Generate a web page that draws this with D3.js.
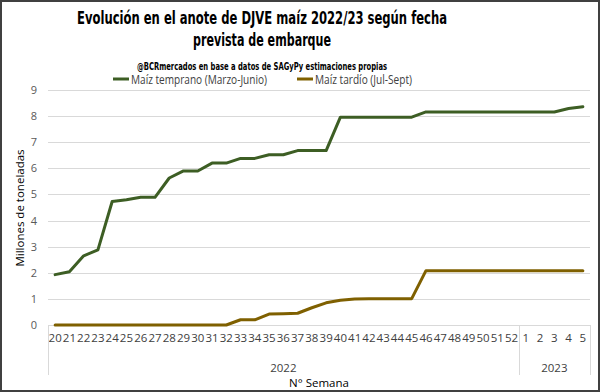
<!DOCTYPE html>
<html>
<head>
<meta charset="utf-8">
<script src="https://cdn.jsdelivr.net/npm/d3@7"></script>
<style>
  html, body { margin: 0; padding: 0; background: #fff; }
  svg { display: block; }
</style>
</head>
<body>
<svg id="chart" width="600" height="392"></svg>
<script>
// ---- Data ----
const weeks = ["20","21","22","23","24","25","26","27","28","29","30","31","32","33","34","35","36","37","38","39","40","41","42","43","44","45","46","47","48","49","50","51","52","1","2","3","4","5"];
const years = [
  { label: "2022", first: "20", last: "52" },
  { label: "2023", first: "1", last: "5" }
];
const temprano = [1.93,2.04,2.65,2.88,4.73,4.80,4.89,4.89,5.63,5.90,5.90,6.20,6.20,6.38,6.38,6.52,6.52,6.68,6.68,6.68,7.96,7.96,7.96,7.96,7.96,7.96,8.16,8.16,8.16,8.16,8.16,8.16,8.16,8.16,8.16,8.16,8.29,8.36];
const tardio = [0,0,0,0,0,0,0,0,0,0,0,0,0,0.20,0.20,0.42,0.43,0.45,0.66,0.85,0.95,1.00,1.01,1.01,1.01,1.01,2.08,2.08,2.08,2.08,2.08,2.08,2.08,2.08,2.08,2.08,2.08,2.08];
const yTicks = [0,1,2,3,4,5,6,7,8,9];
const seriesNames = ["Maíz temprano (Marzo-Junio)", "Maíz tardío (Jul-Sept)"];
const colors = ["#3d5e24", "#7f6000"];

const titleLines = ["Evolución en el anote de DJVE maíz 2022/23 según fecha", "prevista de embarque"];
const subtitle = "@BCRmercados en base a datos de SAGyPy estimaciones propias";
const yTitle = "Millones de toneladas";
const xTitle = "N° Semana";

(function () {
// ---- Layout ----
const svg = d3.select("#chart");
const W = 600, H = 392;
const mLeft = 48, mRight = 590, mTop = 90, mBottom = 325;

svg.append("rect").attr("x", 1).attr("y", 1).attr("width", W - 2).attr("height", H - 2)
  .attr("fill", "#fff").attr("stroke", "#404040").attr("stroke-width", 2);

const x = d3.scaleBand().domain(weeks).range([mLeft, mRight]).padding(0);
const xc = d => x(d) + x.bandwidth() / 2;
const y = d3.scaleLinear().domain([0, 9]).range([mBottom, mTop]);

const condensed = "'Liberation Sans Narrow', 'Arial Narrow', 'DejaVu Sans Condensed', sans-serif";
const bodyFont = "'Open Sans', 'Noto Sans', sans-serif";

// Titles
svg.append("text").attr("x", 262).attr("y", 23.5).attr("text-anchor", "middle")
  .attr("font-family", condensed).attr("font-weight", "bold").attr("font-size", 18)
  .attr("fill", "#000").attr("textLength", 370).attr("lengthAdjust", "spacingAndGlyphs")
  .text(titleLines[0]);
svg.append("text").attr("x", 262).attr("y", 46).attr("text-anchor", "middle")
  .attr("font-family", condensed).attr("font-weight", "bold").attr("font-size", 18)
  .attr("fill", "#000").attr("textLength", 138).attr("lengthAdjust", "spacingAndGlyphs")
  .text(titleLines[1]);
svg.append("text").attr("x", 262).attr("y", 70).attr("text-anchor", "middle")
  .attr("font-family", condensed).attr("font-weight", "bold").attr("font-size", 10.5)
  .attr("fill", "#000").attr("textLength", 250).attr("lengthAdjust", "spacingAndGlyphs")
  .text(subtitle);

// Legend
const legendItems = [
  { x0: 113, tx: 131, tl: 136 },
  { x0: 297, tx: 315, tl: 97 }
];
legendItems.forEach((d, i) => {
  svg.append("line").attr("x1", d.x0).attr("x2", d.x0 + 16).attr("y1", 79).attr("y2", 79)
    .attr("stroke", colors[i]).attr("stroke-width", 3);
  svg.append("text").attr("x", d.tx).attr("y", 83.5)
    .attr("font-family", bodyFont).attr("font-size", 12).attr("fill", "#404040")
    .attr("textLength", d.tl).attr("lengthAdjust", "spacingAndGlyphs")
    .text(seriesNames[i]);
});

// Gridlines
svg.append("g").selectAll("line").data(yTicks).join("line")
  .attr("x1", mLeft).attr("x2", mRight)
  .attr("y1", d => Math.round(y(d)) + 0.5).attr("y2", d => Math.round(y(d)) + 0.5)
  .attr("stroke", "#d9d9d9").attr("stroke-width", 1);

// Y axis labels
const yAxis = d3.axisLeft(y).tickValues(yTicks).tickSize(0).tickPadding(0);
const gy = svg.append("g").attr("transform", `translate(${mLeft - 11},0)`).call(yAxis);
gy.select(".domain").remove();
gy.selectAll("text").attr("font-family", bodyFont).attr("font-size", 11).attr("fill", "#595959");

// Y title
svg.append("text").attr("transform", "translate(24,208) rotate(-90)").attr("text-anchor", "middle")
  .attr("font-family", bodyFont).attr("font-size", 11.5).attr("fill", "#000")
  .text(yTitle);

// X axis (level 1: weeks)
const xAxis = d3.axisBottom(x).tickSize(0).tickPadding(0);
const gx = svg.append("g").attr("transform", `translate(0,${mBottom})`).call(xAxis);
gx.select(".domain").remove();
gx.selectAll("text").attr("font-family", bodyFont).attr("font-size", 11.5).attr("fill", "#404040")
  .attr("dy", "1.45em");

// X axis category boxes
const axisColor = "#d9d9d9";
svg.append("line").attr("x1", mLeft).attr("x2", mRight).attr("y1", mBottom + 0.5).attr("y2", mBottom + 0.5)
  .attr("stroke", axisColor);
const dividers = [x(years[0].first), x(years[1].first), x(years[1].last) + x.bandwidth()];
svg.append("g").selectAll("line").data(dividers).join("line")
  .attr("x1", d => Math.round(d) + 0.5).attr("x2", d => Math.round(d) + 0.5)
  .attr("y1", mBottom).attr("y2", 375)
  .attr("stroke", axisColor).attr("stroke-width", 1);

// Year labels
svg.append("g").selectAll("text").data(years).join("text")
  .attr("x", d => (x(d.first) + x(d.last) + x.bandwidth()) / 2)
  .attr("y", 372).attr("text-anchor", "middle")
  .attr("font-family", bodyFont).attr("font-size", 11.5).attr("fill", "#404040")
  .text(d => d.label);

// X title
svg.append("text").attr("x", (mLeft + mRight) / 2).attr("y", 387).attr("text-anchor", "middle")
  .attr("font-family", bodyFont).attr("font-size", 11.5).attr("fill", "#000")
  .text(xTitle);

// Lines
const line = d3.line().x((d, i) => xc(weeks[i])).y(d => y(d)).curve(d3.curveLinear);
[temprano, tardio].forEach((s, i) => {
  svg.append("path").datum(s).attr("d", line)
    .attr("fill", "none").attr("stroke", colors[i]).attr("stroke-width", 3)
    .attr("stroke-linejoin", "round").attr("stroke-linecap", "round");
});
})();
</script>
</body>
</html>
